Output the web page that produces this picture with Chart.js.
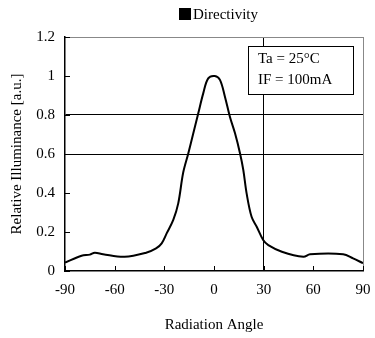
<!DOCTYPE html>
<html>
<head>
<meta charset="utf-8">
<script src="https://cdn.jsdelivr.net/npm/chart.js@4/dist/chart.umd.min.js"></script>
<style>
  html, body { margin: 0; padding: 0; background: #fff; }
  #wrap { width: 375px; height: 338px; position: relative; }
</style>
</head>
<body>
<div id="wrap"><canvas id="directivity-chart"></canvas></div>
<script>
// Values
const angles = [-90, -80, -75, -72, -67, -54, -41, -35, -31.6, -28.6, -24.6, -21.6, -18.6, -15.5, -12.5, -9.5, -6.5, -3.5, 0.5, 3.6, 6.6, 9.6, 12.7, 15.7, 17.7, 19.7, 22.7, 25.8, 29.7, 32.8, 41, 54, 58, 78, 84, 90];
const illuminance = [0.043, 0.078, 0.084, 0.094, 0.086, 0.073, 0.094, 0.116, 0.142, 0.193, 0.262, 0.347, 0.505, 0.604, 0.706, 0.809, 0.911, 0.988, 1.0, 0.98, 0.894, 0.791, 0.706, 0.604, 0.518, 0.398, 0.278, 0.227, 0.159, 0.133, 0.099, 0.073, 0.086, 0.086, 0.065, 0.04];
const xTicks = [-90, -60, -30, 0, 30, 60, 90];
const yTicks = [0, 0.2, 0.4, 0.6, 0.8, 1, 1.2];
const seriesName = 'Directivity';

const serif = "'Liberation Serif', 'Times New Roman', serif";

const points = angles.map((a, i) => ({ x: a, y: illuminance[i] }));

// Small title with black square, centred over the plot
const headerPlugin = {
    id: 'header',
    afterDraw(chart) {
        const c = chart.ctx;
        const area = chart.chartArea;
        c.save();
        c.font = '15px ' + serif;
        const w = c.measureText(seriesName).width;
        const total = 12 + 2 + w;
        const x0 = Math.round((area.left + area.right) / 2 - total / 2 + 4);
        c.fillStyle = '#000';
        c.fillRect(x0, 8, 12, 12);
        c.textBaseline = 'alphabetic';
        c.fillText(seriesName, x0 + 14, 19);
        c.restore();
    }
};

// Inward tick marks and condition box
const extrasPlugin = {
    id: 'extras',
    afterDraw(chart) {
        const c = chart.ctx;
        const area = chart.chartArea;
        const xs = chart.scales.x, ys = chart.scales.y;
        c.save();
        c.strokeStyle = '#000';
        c.lineWidth = 1;
        c.beginPath();
        xTicks.forEach(v => {
            const px = Math.round(xs.getPixelForValue(v)) + 0.5;
            c.moveTo(px, area.bottom);
            c.lineTo(px, area.bottom - 5);
        });
        yTicks.forEach(v => {
            const py = Math.round(ys.getPixelForValue(v)) + 0.5;
            c.moveTo(area.left, py);
            c.lineTo(area.left + 5, py);
        });
        c.stroke();

        // Condition box
        const bx = Math.round(xs.getPixelForValue(20.5)), by = Math.round(ys.getPixelForValue(1.154));
        const bw = 105, bh = 48;
        c.fillStyle = '#fff';
        c.fillRect(bx, by, bw, bh);
        c.strokeRect(bx + 0.5, by + 0.5, bw, bh);
        c.fillStyle = '#000';
        c.font = '15px ' + serif;
        c.textBaseline = 'middle';
        c.fillText('Ta = 25\u00B0C', bx + 10, by + 13);
        c.fillText('IF = 100mA', bx + 10, by + 34);
        c.restore();
    }
};

const ctx = document.getElementById('directivity-chart').getContext('2d');

const myChart = new Chart(ctx, {
    type: 'scatter',
    data: {
        datasets: [{
            label: seriesName,
            data: points,
            showLine: true,
            borderColor: '#000',
            backgroundColor: '#000',
            borderWidth: 2,
            pointRadius: 0,
            tension: 0.35
        }]
    },
    options: {
        responsive: true,
        maintainAspectRatio: false,
        animation: false,
        layout: { padding: { top: 37, right: 12, left: 8, bottom: 4 } },
        plugins: {
            legend: { display: false },
            tooltip: { enabled: false }
        },
        scales: {
            x: {
                type: 'linear',
                min: -90,
                max: 90,
                afterBuildTicks: s => { s.ticks = xTicks.map(v => ({ value: v })); },
                ticks: { color: '#000', font: { family: serif, size: 15 }, padding: 10 },
                grid: {
                    drawTicks: false,
                    color: c => c.tick.value === 30 ? '#000' : (c.tick.value === 90 ? '#888' : 'rgba(0,0,0,0)')
                },
                border: { color: '#000', width: 1.5 },
                title: {
                    display: true,
                    text: 'Radiation Angle',
                    color: '#000',
                    font: { family: serif, size: 15 },
                    padding: { top: 6, bottom: 0 }
                },
                afterFit: s => {
                    s.height = 338 - 271 - 4;
                    s.paddingLeft = 0;
                    s.paddingRight = 0;
                }
            },
            y: {
                min: 0,
                max: 1.2,
                afterBuildTicks: s => { s.ticks = yTicks.map(v => ({ value: v })); },
                ticks: {
                    color: '#000',
                    font: { family: serif, size: 15 },
                    padding: 10,
                    callback: v => String(Math.round(v * 10) / 10)
                },
                grid: {
                    drawTicks: false,
                    color: c => {
                        const v = Math.round(c.tick.value * 10) / 10;
                        if (v === 0.6 || v === 0.8) return '#000';
                        if (v === 1.2) return '#888';
                        return 'rgba(0,0,0,0)';
                    }
                },
                border: { color: '#000', width: 1.5 },
                title: {
                    display: true,
                    text: 'Relative Illuminance [a.u.]',
                    color: '#000',
                    font: { family: serif, size: 15 },
                    padding: { top: 0, bottom: 4 }
                },
                afterFit: s => {
                    s.width = 65 - 8;
                    s.paddingTop = 0;
                    s.paddingBottom = 0;
                }
            }
        }
    },
    plugins: [headerPlugin, extrasPlugin]
});
</script>
</body>
</html>
